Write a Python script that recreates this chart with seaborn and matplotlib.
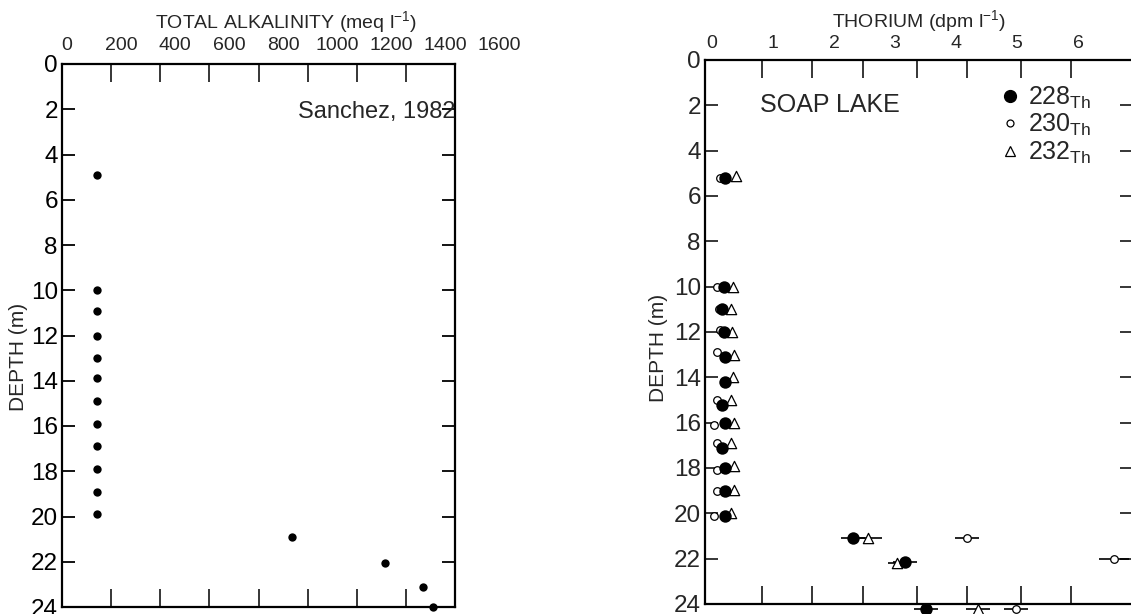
import matplotlib
matplotlib.use("Agg")
import matplotlib.pyplot as plt
import pandas as pd
import seaborn as sns
from matplotlib.ticker import FixedLocator, NullFormatter

sns.set_style("white")
plt.rcParams["font.family"] = ["Liberation Sans", "DejaVu Sans"]
plt.rcParams["mathtext.fontset"] = "custom"
plt.rcParams["mathtext.rm"] = "Liberation Sans"

# ---------------- data ----------------
# Left panel: total alkalinity (meq/l) vs depth (m)
alk_depth = [4.9, 10.0, 10.9, 12.0, 13.0, 13.9, 14.9, 15.9, 16.9, 17.9, 18.9, 19.9, 20.9, 22.05, 23.1, 24.0]
alk_value = [110, 112, 112, 112, 112, 112, 112, 112, 112, 112, 112, 112, 831, 1177, 1317, 1354]

# Right panel: thorium isotopes (dpm/l) vs depth (m)
th228_depth = [5.2, 10.0, 11.0, 12.0, 13.1, 14.2, 15.2, 16.0, 17.1, 18.0, 19.0, 20.1, 21.1, 22.15, 24.2]
th228_value = [0.21, 0.20, 0.16, 0.20, 0.21, 0.21, 0.16, 0.21, 0.16, 0.21, 0.21, 0.21, 2.31, 3.16, 3.51]
th228_err = [0, 0, 0, 0, 0, 0, 0, 0, 0, 0, 0, 0, 0.20, 0.20, 0.20]

th230_depth = [5.2, 10.0, 11.0, 11.9, 12.9, 15.0, 16.1, 16.9, 18.1, 19.0, 20.1, 21.1, 22.0, 24.2]
th230_value = [0.13, 0.08, 0.11, 0.13, 0.08, 0.08, 0.03, 0.08, 0.08, 0.08, 0.03, 4.18, 6.59, 4.98]
th230_err = [0, 0, 0, 0, 0, 0, 0, 0, 0, 0, 0, 0.20, 0.25, 0.20]

th232_depth = [5.1, 10.0, 11.0, 12.0, 13.0, 14.0, 15.0, 16.0, 16.9, 17.9, 18.95, 20.0, 21.1, 22.2, 24.2]
th232_value = [0.39, 0.34, 0.31, 0.33, 0.36, 0.34, 0.31, 0.36, 0.31, 0.36, 0.36, 0.31, 2.56, 3.03, 4.36]
th232_err = [0, 0, 0, 0, 0, 0, 0, 0, 0, 0, 0, 0, 0.23, 0.15, 0.20]

alk_ticks = [0, 200, 400, 600, 800, 1000, 1200, 1400, 1600]
th_ticks = [0, 1, 2, 3, 4, 5, 6]
depth_ticks = [0, 2, 4, 6, 8, 10, 12, 14, 16, 18, 20, 22, 24]
legend_labels = ["228$_{\\mathrm{Th}}$", "230$_{\\mathrm{Th}}$", "232$_{\\mathrm{Th}}$"]

alk_df = pd.DataFrame({"depth": alk_depth, "alk": alk_value})
t228 = pd.DataFrame({"depth": th228_depth, "th": th228_value, "err": th228_err})
t230 = pd.DataFrame({"depth": th230_depth, "th": th230_value, "err": th230_err})
t232 = pd.DataFrame({"depth": th232_depth, "th": th232_value, "err": th232_err})

W, H = 1131, 614
fig = plt.figure(figsize=(W / 100, H / 100), dpi=100)
fig.patch.set_facecolor("white")


def frac(x0, y_top, x1, y_bot):
    return [x0 / W, (H - y_bot) / H, (x1 - x0) / W, (y_bot - y_top) / H]


# ---------------- left panel ----------------
axL = fig.add_axes(frac(62, 64, 455, 607))
axL.set_xlim(0, 1600)
axL.set_ylim(24, 0)
for s in axL.spines.values():
    s.set_linewidth(1.6)
    s.set_color("black")
axL.xaxis.set_major_locator(FixedLocator([200, 400, 600, 800, 1000, 1200, 1400]))
axL.xaxis.set_major_formatter(NullFormatter())
axL.tick_params(axis="x", which="major", direction="in", length=13, width=1.3,
                top=True, bottom=True, labeltop=False, labelbottom=False)
axL.set_yticks(depth_ticks)
axL.set_yticklabels([str(v) for v in depth_ticks])
axL.tick_params(axis="y", direction="in", length=9.5, width=1.3, left=True, right=True,
                labelsize=17.5, pad=3, colors="black")
axL.set_ylabel("DEPTH (m)", fontsize=15)
axL.yaxis.set_label_coords(-0.087, 0.46)

# label/data overlay (tick labels are offset from the tick marks in the original)
axLt = fig.add_axes(frac(62, 64, 510, 607), facecolor="none")
axLt.set_frame_on(False)
axLt.set_xlim(-18.5, 1638)
axLt.set_ylim(24, 0)
axLt.set_yticks([])
axLt.xaxis.tick_top()
axLt.set_xticks(alk_ticks)
axLt.set_xticklabels([str(v) for v in alk_ticks])
axLt.tick_params(axis="x", length=0, labelsize=14, pad=7)
axLt.xaxis.set_label_position("top")
sns.scatterplot(data=alk_df, x="alk", y="depth", ax=axLt, color="black", s=36,
                edgecolor="black", linewidth=0, clip_on=False, legend=False)
axLt.set_ylabel("")
axLt.set_xlabel("TOTAL ALKALINITY (meq l$^{-1}$)", fontsize=14, labelpad=6)
axL.text(1.0, 2.1, "Sanchez, 1982", transform=axL.get_yaxis_transform(),
         ha="right", va="center", fontsize=17)

# ---------------- right panel ----------------
axR = fig.add_axes(frac(705, 60, 1133, 604))
axR.set_xlim(-0.115, 6.9)
axR.set_ylim(24, 0)
for s in axR.spines.values():
    s.set_linewidth(1.6)
    s.set_color("black")
axR.xaxis.tick_top()
axR.set_xticks(th_ticks)
axR.set_xticklabels([str(v) for v in th_ticks])
axR.tick_params(axis="x", which="major", length=0, labelsize=14, pad=6)
axR.xaxis.set_minor_locator(FixedLocator([0.82, 1.64, 2.48, 3.36, 4.18, 5.07, 5.89]))
axR.tick_params(axis="x", which="minor", direction="in", length=13, width=1.3,
                top=True, bottom=True)
axR.xaxis.set_label_position("top")
axR.set_yticks(depth_ticks)
axR.set_yticklabels([str(v) for v in depth_ticks])
axR.tick_params(axis="y", direction="in", length=9.5, width=1.3, left=True, right=True,
                labelsize=17.5, pad=3)

for df in [t228, t230, t232]:
    axR.errorbar(df["th"], df["depth"], xerr=df["err"], fmt="none", ecolor="black",
                 elinewidth=1.2, capsize=0, clip_on=False, zorder=2)

sns.scatterplot(data=t228, x="th", y="depth", ax=axR, color="black", s=80, marker="o",
                edgecolor="black", linewidth=0, clip_on=False, zorder=4, legend=False)
sns.scatterplot(data=t230, x="th", y="depth", ax=axR, facecolor="white", s=30, marker="o",
                edgecolor="black", linewidth=0.9, clip_on=False, zorder=3, legend=False)
sns.scatterplot(data=t232, x="th", y="depth", ax=axR, facecolor="white", s=55, marker="^",
                edgecolor="black", linewidth=0.9, clip_on=False, zorder=3, legend=False)
axR.set_xlabel("THORIUM (dpm l$^{-1}$)", fontsize=14, labelpad=5)
axR.set_ylabel("DEPTH (m)", fontsize=15)
axR.yaxis.set_label_coords(-0.086, 0.47)

axR.text(0.79, 2.0, "SOAP LAKE", ha="left", va="center", fontsize=18)

h1 = plt.Line2D([], [], ls="none", marker="o", ms=8.5, mfc="black", mec="black")
h2 = plt.Line2D([], [], ls="none", marker="o", ms=5, mfc="white", mec="black", mew=0.9)
h3 = plt.Line2D([], [], ls="none", marker="^", ms=7, mfc="white", mec="black", mew=0.9)
axR.legend([h1, h2, h3], legend_labels, loc="upper left", bbox_to_anchor=(0.69, 0.955),
           frameon=False, fontsize=18, handlelength=0.8, handletextpad=0.3,
           labelspacing=0.05, borderpad=0, borderaxespad=0)

fig.savefig("out.png", dpi=100, facecolor="white")
